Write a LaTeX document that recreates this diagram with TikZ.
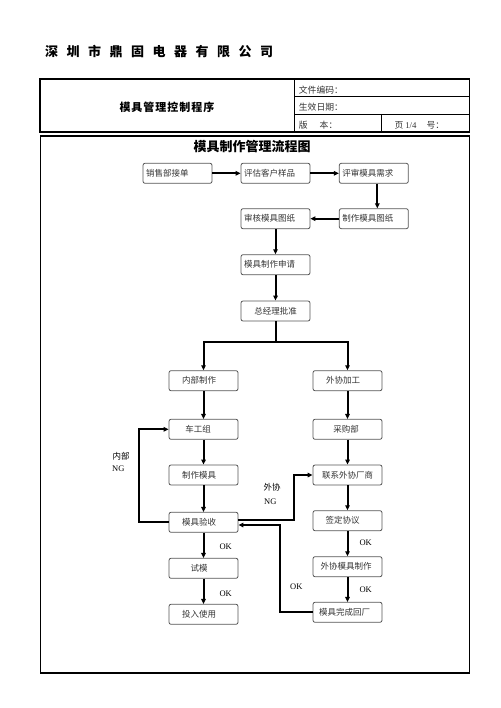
\documentclass[tikz,border=0pt]{standalone}
\usepackage{fontspec}
\setmainfont{Noto Sans CJK SC}
\newfontfamily\lat{Liberation Serif}
\usetikzlibrary{arrows.meta}
\definecolor{boxline}{HTML}{555555}
\definecolor{boxtext}{HTML}{333333}
\tikzset{
  box/.style={draw=boxline, line width=0.8pt, rounded corners=2pt, minimum width=69pt, minimum height=20pt, inner sep=0pt, font=\fontsize{8.5}{10}\selectfont, text=boxtext},
  lbox/.style={box, text width=63pt, align=left, inner xsep=3pt},
  arr/.style={line width=2pt, -{Triangle[length=5pt,width=4.5pt]}},
  ln/.style={line width=2pt},
  lab/.style={font=\lat\fontsize{8.5}{10}\selectfont, inner sep=0pt},
  clab/.style={font=\fontsize{8.5}{10}\selectfont, inner sep=0pt},
}
\newcommand{\sh}[1]{\hspace*{#1}}
\begin{document}
\begin{tikzpicture}[x=1pt,y=-1pt]
\useasboundingbox (0,0) rectangle (500,708);
% company title
\node[anchor=west, inner sep=0pt, font=\bfseries\fontsize{13}{15}\selectfont] (company) at (45,52)
  {深\sh{8.5pt}圳\sh{8.5pt}市\sh{8.5pt}鼎\sh{8.5pt}固\sh{8.5pt}电\sh{8.5pt}器\sh{8.5pt}有\sh{8.5pt}限\sh{8.5pt}公\sh{8.5pt}司};
% header table
\draw[line width=1.6pt] (40,79.3) rectangle (469.3,132.3);
\draw[line width=0.8pt] (294.7,79.3) -- (294.7,132.3);
\draw[line width=0.8pt] (294.7,96.7) -- (469.3,96.7);
\draw[line width=0.8pt] (294.7,114) -- (469.3,114);
\draw[line width=0.8pt] (381,114) -- (381,132.3);
\node[inner sep=0pt, font=\bfseries\fontsize{11}{13}\selectfont] (doctitle) at (167,107.3) {模\sh{1pt}具\sh{1pt}管\sh{1pt}理\sh{1pt}控\sh{1pt}制\sh{1pt}程\sh{1pt}序};
\node[anchor=west, inner sep=0pt, font=\fontsize{8.8}{10}\selectfont, text=boxtext] (code) at (298.7,90.3) {文件编码：};
\node[anchor=west, inner sep=0pt, font=\fontsize{8.8}{10}\selectfont, text=boxtext] (date) at (298.7,107.6) {生效日期：};
\node[anchor=west, inner sep=0pt, font=\fontsize{8.8}{10}\selectfont, text=boxtext] (ver) at (298.7,125.3) {版\sh{12pt}本：};
\node[anchor=west, inner sep=0pt, font=\fontsize{8.8}{10}\selectfont, text=boxtext] (page) at (394.3,125.3) {页\sh{2pt}{\lat 1/4}\sh{10pt}号：};
% main frame
\draw[line width=1.6pt] (40.5,136) rectangle (469.3,672.7);
\node[inner sep=0pt, font=\bfseries\fontsize{13}{15}\selectfont] (charttitle) at (252,146.7) {模具制作管理流程图};
% upper boxes
\node[lbox] (sale) at (177.5,173.3) {销售部接单};
\node[lbox] (eval) at (275.5,173.3) {评估客户样品};
\node[lbox] (review) at (373.8,173.3) {评审模具需求};
\node[lbox] (audit) at (275.5,218.7) {审核模具图纸};
\node[lbox] (drawing) at (373.8,218.7) {制作模具图纸};
\node[lbox] (apply) at (275.5,264.7) {模具制作申请};
\node[box] (approve) at (275.5,311) {总经理批准};
% left column
\node[box] (inner) at (203.5,380.7) {\sh{-9pt}内部制作};
\node[box] (lathe) at (203.5,429.3) {\sh{-11pt}车工组};
\node[box] (make) at (203.5,475) {\sh{-9pt}制作模具};
\node[box] (check) at (203.5,522.3) {\sh{-9pt}模具验收};
\node[box] (trial) at (203.5,568.3) {\sh{-9pt}试模};
\node[box] (use) at (203.5,614.3) {\sh{-9pt}投入使用};
% right column
\node[box] (outer) at (347.5,380.7) {\sh{-9pt}外协加工};
\node[box] (purch) at (347.5,429.3) {\sh{-3pt}采购部};
\node[box] (contact) at (347.5,475) {联系外协厂商};
\node[box] (sign) at (347.5,520.7) {\sh{-10pt}签定协议};
\node[box] (omake) at (347.5,566.7) {\sh{-3pt}外协模具制作};
\node[box] (back) at (347.5,612.3) {\sh{-6pt}模具完成回厂};
% connectors upper
\draw[arr] (sale.east) -- (eval.west);
\draw[arr] (eval.east) -- (review.west);
\draw[arr] ([xshift=3.5pt]review.south) -- ([xshift=3.5pt]drawing.north);
\draw[arr] (drawing.west) -- (audit.east);
\draw[arr] (audit.south) -- (apply.north);
\draw[arr] (apply.south) -- (approve.north);
\coordinate (split) at (275.5,341.7);
\draw[ln] (approve.south) -- (split);
\draw[arr] (split) -| (inner.north);
\draw[arr] (split) -| (outer.north);
% left column connectors
\draw[arr] (inner.south) -- (lathe.north);
\draw[arr] (lathe.south) -- (make.north);
\draw[arr] (make.south) -- (check.north);
\draw[arr] (check.south) -- (trial.north);
\draw[arr] (trial.south) -- (use.north);
% right column connectors
\draw[arr] (outer.south) -- (purch.north);
\draw[arr] (purch.south) -- (contact.north);
\draw[arr] (contact.south) -- (sign.north);
\draw[arr] (sign.south) -- (omake.north);
\draw[arr] (omake.south) -- (back.north);
% loops
\coordinate (ngL) at (139.3,522.3);
\draw[arr] (check.west) -- (ngL) |- (lathe.west);
\coordinate (ngR) at (294,519.8);
\draw[arr] ([yshift=2.5pt]check.east) -- (ngR) |- (contact.west);
\coordinate (okR) at (280,612.3);
\draw[arr] (back.west) -- (okR) |- ([yshift=-2.7pt]check.east);
% labels
\node[clab, anchor=west] (l1) at (112.5,456) {内部};
\node[lab, anchor=west] (l2) at (112,468.7) {NG};
\node[clab, anchor=west] (l3) at (263.3,487) {外协};
\node[lab, anchor=west] (l4) at (264,501.7) {NG};
\node[lab, anchor=west] (ok1) at (219.3,546.7) {OK};
\node[lab, anchor=west] (ok2) at (219.3,593.3) {OK};
\node[lab, anchor=west] (ok3) at (359.3,542.7) {OK};
\node[lab, anchor=west] (ok4) at (359.3,590) {OK};
\node[lab, anchor=west] (ok5) at (290,586.7) {OK};
\end{tikzpicture}
\end{document}
